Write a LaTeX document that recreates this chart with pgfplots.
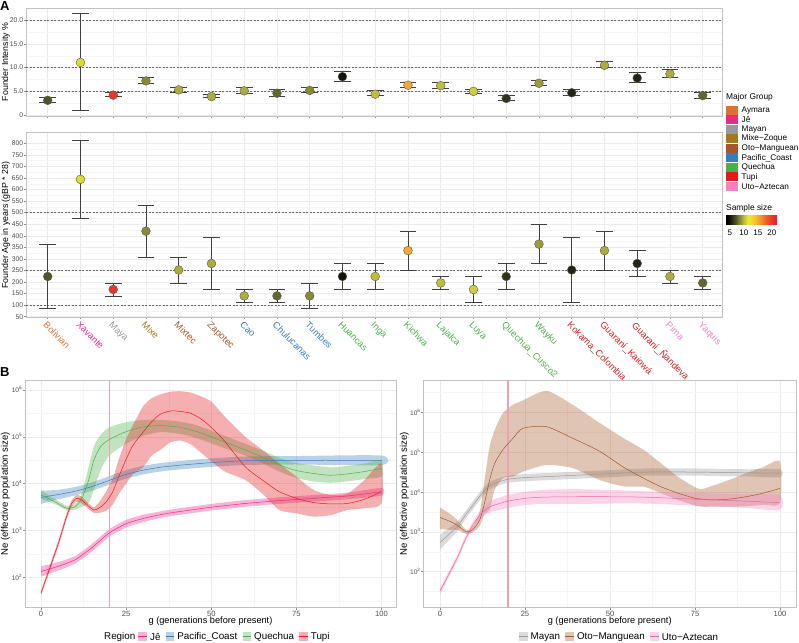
\documentclass[border=0pt]{standalone}
\usepackage{pgfplots}
\pgfplotsset{compat=1.18}
\usepackage{pgfplotstable}
\usetikzlibrary{positioning}
\usepackage{fontspec}
\setmainfont{Liberation Sans}

\definecolor{cAym}{HTML}{E0702C}
\definecolor{cJe}{HTML}{E7298A}
\definecolor{cMay}{HTML}{999999}
\definecolor{cMZ}{HTML}{A6761D}
\definecolor{cOM}{HTML}{A65628}
\definecolor{cPC}{HTML}{377EB8}
\definecolor{cQu}{HTML}{4DAF4A}
\definecolor{cTu}{HTML}{E41A1C}
\definecolor{cUA}{HTML}{F781BF}
\definecolor{cUAl}{HTML}{E8679F}
\definecolor{gridc}{HTML}{EBEBEB}
\definecolor{gridm}{HTML}{F5F5F5}
\definecolor{bordc}{HTML}{C2C2C2}
\definecolor{tickc}{HTML}{4D4D4D}
\definecolor{cVL}{RGB}{236,160,176}
\definecolor{ss0}{RGB}{0,0,0}
\definecolor{ss1}{RGB}{20,20,12}
\definecolor{ss2}{RGB}{80,84,38}
\definecolor{ss3}{RGB}{155,157,56}
\definecolor{ss4}{RGB}{205,208,58}
\definecolor{ss5}{RGB}{235,235,45}
\definecolor{ss6}{RGB}{250,210,40}
\definecolor{ss7}{RGB}{245,168,48}
\definecolor{ss8}{RGB}{240,90,40}
\definecolor{ss9}{RGB}{232,38,43}

\pgfdeclarehorizontalshading{ssbar}{100bp}{color(0bp)=(ss0); color(26.1bp)=(ss0); color(28.85bp)=(ss1); color(34.34bp)=(ss2); color(39.83bp)=(ss3); color(43.95bp)=(ss4); color(46.7bp)=(ss5); color(50.82bp)=(ss6); color(56.32bp)=(ss7); color(64.56bp)=(ss8); color(72.8bp)=(ss9); color(100bp)=(ss9)}

\pgfplotsset{
  colormap={ss}{rgb255(0cm)=(0,0,0); rgb255(2cm)=(20,20,12); rgb255(6cm)=(80,84,38); rgb255(10cm)=(155,157,56); rgb255(13cm)=(205,208,58); rgb255(15cm)=(235,235,45); rgb255(18cm)=(250,210,40); rgb255(22cm)=(245,168,48); rgb255(28cm)=(240,90,40); rgb255(34cm)=(232,38,43)},
  gg/.style={scale only axis, anchor=south west,
    axis line style={draw=bordc, line width=0.6pt},
    tick align=outside, major tick length=2pt,
    tick style={draw=black!45, line width=0.5pt},
    minor tick length=0pt, grid=both,
    major grid style={draw=gridc, line width=0.5pt},
    minor grid style={draw=gridm, line width=0.3pt},
    tick pos=left, tick label style={text=tickc},
    yticklabel style={inner sep=0.6pt},
    /pgf/number format/assume math mode=true},
}

% Panel A: founder intensity (fi), founder age (age), sample size (ss)
\pgfplotstableread{
x fi filo fihi age agelo agehi ss
0 3.1 2.7 3.7 224 84 364 7
1 11.1 1.05 21.5 644 476 812 11
2 4.2 3.9 4.8 168 140 196 20
3 7.2 6.7 8.0 420 308 532 8.5
4 5.3 4.8 5.9 252 196 308 9.5
5 3.9 3.7 4.4 280 168 392 9.5
6 5.1 4.5 5.9 140 112 168 9.5
7 4.6 3.9 5.5 140 112 168 7.5
8 5.2 4.8 5.8 140 84 196 8.5
9 8.1 7.2 9.3 224 168 280 5
10 4.4 4.1 5.3 224 168 280 10
11 6.3 5.8 6.9 336 252 420 15
12 6.2 5.6 6.9 196 168 224 10
13 5.0 4.6 5.5 168 112 224 10.5
14 3.5 3.2 4.1 224 168 280 6
15 6.7 6.2 7.4 364 280 448 9
16 4.7 4.1 5.5 252 112 392 5.5
17 10.5 10.0 11.3 336 252 420 9.5
18 7.8 6.9 9.1 280 224 336 5.5
19 8.7 7.9 9.7 224 196 252 9.5
20 4.1 3.6 4.8 196 168 224 7.5
}\tabA

% Panel B: central lines (g, m) and band outlines (upper edge forward, lower edge back)
\pgfplotstableread{
g m
0 135
5 174
10 240
15 437
20 891
25 1413
30 1820
35 2188
40 2512
50 3162
60 3802
70 4365
80 4898
90 5495
100 6761
}\jeT
\pgfplotstableread{
g b
0 175
5 214
10 288
15 525
20 1072
25 1698
30 2188
35 2570
40 2951
50 3715
60 4467
70 5129
80 5754
90 6457
100 8128
100 5623
90 4677
80 4169
70 3715
60 3236
50 2692
40 2138
35 1862
30 1514
25 1175
20 741
15 363
10 200
5 141
0 105
}\jeB

\pgfplotstableread{
g m
0 5129
5 5888
10 6918
15 8710
20 11749
25 15849
30 19498
35 22387
40 24547
50 28184
60 30903
75 31623
100 31623
}\pcT
\pgfplotstableread{
g b
0 7079
5 7413
10 8511
15 10715
20 14454
25 19498
30 23988
35 27542
40 30200
50 34674
60 38019
75 38905
100 39811
100 25119
75 25704
60 25119
50 22909
40 19953
35 18197
30 15849
25 12882
20 9550
15 7079
10 5623
5 4677
0 3715
}\pcB

\pgfplotstableread{
g m
0 5754
4 4169
7.5 3020
10 3236
12 4898
14 12023
15.5 31623
17.5 61660
20 87096
25 128825
30 162181
35 173780
40 162181
45 134896
50 100000
55 72444
60 52481
65 37154
70 25119
75 19055
80 16596
85 15136
90 16218
95 18197
100 21380
}\quT
\pgfplotstableread{
g b
0 7244
4 4786
7.5 3388
10 3715
12 6310
14 22909
15.5 61660
17.5 109648
20 158489
25 204174
30 229087
35 229087
40 213796
45 181970
50 134896
55 97724
60 70795
65 51286
70 35481
75 27542
80 24547
85 22387
90 23988
95 26915
100 31623
100 14454
95 12589
90 11220
85 10471
80 11220
75 13183
70 18197
65 27542
60 39811
55 53703
50 72444
45 97724
40 117490
35 125893
30 104713
25 70795
20 39811
17.5 19498
15.5 7413
14 3890
12 3236
10 2818
7.5 2754
4 3715
0 4786
}\quB

\pgfplotstableread{
g m
0 46.8
5 513
7.5 1995
9 3802
10.5 4898
12 4467
14 3311
15.5 2754
17 3020
19 3981
21 6607
23 15136
25 33113
27 66069
30 125893
32.5 208930
35 301995
38 354813
41 346737
44 316228
47 239883
50 158489
54 79433
60 22909
65 12023
70 6761
75 4898
80 3981
85 3715
90 3802
95 4677
100 6761
}\tuT
\pgfplotstableread{
g b
0 52.5
5 603
7.5 2344
9 4467
10.5 5754
12 5248
14 3802
15.5 3162
17 3981
19 6607
21 12589
23 35481
25 89125
27 177828
30 446684
32.5 660693
35 794328
38 912011
41 933254
44 870964
47 724436
50 562341
54 269153
60 100000
65 52481
70 26915
75 14125
80 7413
85 5754
90 6166
95 12023
100 26915
100 3802
95 3020
90 2754
85 2138
80 1995
75 2344
70 2754
65 6166
60 12023
54 18197
50 30200
47 45709
44 69183
41 83176
38 75858
35 52481
32.5 39811
30 22387
27 15849
25 10000
23 6310
21 3548
19 2630
17 2399
15.5 2399
14 2884
12 3802
10.5 4169
9 3236
7.5 1698
5 437
0 41.7
}\tuB

\pgfplotstableread{
g m
0 537
5 1349
7.5 2630
10 5012
12.5 9550
15 15136
20 20893
25 22909
30 23988
40 26303
50 28840
60 31623
75 31623
90 30200
100 29512
}\mayT
\pgfplotstableread{
g b
0 832
5 1778
7.5 3311
10 6310
12.5 12023
15 18621
20 25704
25 28184
30 29512
40 32359
50 35481
60 38905
75 38905
90 37154
100 37154
100 23442
90 24547
75 25704
60 25704
50 23442
40 21380
30 19498
25 18621
20 16982
15 12303
12.5 7586
10 3981
7.5 2089
5 1023
0 355
}\mayB

\pgfplotstableread{
g m
0 2291
3 1820
5 1479
7.7 1000
9.6 1122
11.7 1995
13.1 5248
14.6 19953
16.1 52481
18.5 114815
21.5 223872
24.4 398107
31.3 436516
39 223872
47 104713
54 41687
60 21878
65 13490
70 9333
75 6918
77 6607
80 6310
85 6607
90 7586
95 9333
100 12303
}\omT
\pgfplotstableread{
g b
0 4074
3 2818
5 1995
7.7 1122
9.6 1318
11.7 3162
13.1 19953
14.6 138038
16.1 363078
18.5 954993
21.5 1548817
24.4 1995262
31.3 3467369
39 1548817
47 537032
54 223872
60 112202
65 52481
70 23988
75 13183
77 11749
80 14125
85 19953
90 29512
95 41687
100 57544
100 5248
95 4786
90 4365
85 4266
80 4266
77 4266
75 4571
70 6310
65 9333
60 13490
54 13804
47 19953
39 39811
31.3 47863
24.4 32359
21.5 24547
18.5 22387
16.1 11220
14.6 3548
13.1 2818
11.7 1413
9.6 955
7.7 891
5 1122
3 1122
0 1175
}\omB

\pgfplotstableread{
g m
0 32.4
5 214
7.5 661
10 1660
12.5 3090
15 4365
20 5888
25 6918
30 7413
40 7586
50 7586
60 7413
75 6607
90 5888
100 5370
}\uaT
\pgfplotstableread{
g b
0 38.9
5 257
7.5 794
10 2042
12.5 3981
15 6026
20 8511
25 10000
30 11220
40 11749
50 11220
60 10471
75 9333
90 8710
100 8318
100 3548
90 3981
75 4571
60 5129
50 5129
40 5012
30 5012
25 4677
20 3981
15 3162
12.5 2399
10 1349
7.5 550
5 178
0 26.9
}\uaB

\newcommand{\band}[2]{%
  \addplot[fill=#2, fill opacity=0.35, draw=none, smooth, tension=0.4, forget plot] table[x=g, y=b] {#1};
}

\tikzset{
  keyb/.style={minimum width=8.5pt, minimum height=8.5pt, inner sep=0pt, outer sep=0pt},
  ltxt/.style={font=\fontsize{9.8}{11}\selectfont, inner sep=0pt, anchor=west},
}

\begin{document}
\begin{tikzpicture}
\path[use as bounding box] (0pt,0pt) rectangle (799pt,-642pt);

% ---------------- Panel A top ----------------
\begin{axis}[gg, at={(26pt,-116pt)}, width=696pt, height=108pt,
  xmin=-0.663, xmax=20.589, ymin=-0.21, ymax=22.6,
  xtick={0,...,20}, xticklabel=\empty,
  ytick={0,5,10,15,20}, yticklabels={0,5.0,10.0,15.0,20.0},
  minor ytick={2.5,7.5,12.5,17.5},
  yticklabel style={font=\fontsize{6.8}{7}\selectfont},
  colormap name=ss, point meta min=4, point meta max=21]
\addplot[black!60, line width=0.45pt, dash pattern=on 2pt off 1.5pt] coordinates {(-0.663,5) (20.589,5)};
\addplot[black!60, line width=0.45pt, dash pattern=on 2pt off 1.5pt] coordinates {(-0.663,10) (20.589,10)};
\addplot[black!60, line width=0.45pt, dash pattern=on 2pt off 1.5pt] coordinates {(-0.663,20) (20.589,20)};
\addplot[draw=none, error bars/.cd, y dir=both, y explicit,
  error bar style={draw=black!75, line width=0.7pt},
  error mark options={rotate=90, draw=black!75, line width=0.7pt, mark size=8.3pt}]
  table[x=x, y=fi, y error plus expr=\thisrow{fihi}-\thisrow{fi}, y error minus expr=\thisrow{fi}-\thisrow{filo}] {\tabA};
\addplot[scatter, only marks, mark=*, mark size=4.4pt, scatter src=explicit,
  scatter/use mapped color={draw=black!65, fill=mapped color}, line width=0.4pt]
  table[x=x, y=fi, meta=ss] {\tabA};
\end{axis}

% ---------------- Panel A bottom ----------------
\begin{axis}[gg, at={(26pt,-317.3pt)}, width=696pt, height=184.6pt,
  xmin=-0.663, xmax=20.589, ymin=47.4, ymax=845.8,
  xtick={0,...,20},
  xticklabels={\textcolor{cAym}{Bolivian}, \textcolor{cJe}{Xavante}, \textcolor{cMay}{Maya}, \textcolor{cMZ}{Mixe}, \textcolor{cOM}{Mixtec}, \textcolor{cOM}{Zapotec}, \textcolor{cPC}{Cao}, \textcolor{cPC}{Chulucanas}, \textcolor{cPC}{Tumbes}, \textcolor{cQu}{Huancas}, \textcolor{cQu}{Inga}, \textcolor{cQu}{Kichwa}, \textcolor{cQu}{Lajalca}, \textcolor{cQu}{Luya}, \textcolor{cQu}{Quechua\_Cusco2}, \textcolor{cQu}{Wayku}, \textcolor{cTu}{Kokama\_Colombia}, \textcolor{cTu}{Guaraní\_Kaiowá}, \textcolor{cTu}{Guaraní\_Ñandeva}, \textcolor{cUA}{Pima}, \textcolor{cUA}{Yaquis}},
  xticklabel style={rotate=-45, anchor=north west, inner sep=1pt, font=\fontsize{9.3}{10}\selectfont},
  ytick={50,100,...,800}, minor ytick={75,125,...,775},
  yticklabel style={font=\fontsize{6.8}{7}\selectfont},
  colormap name=ss, point meta min=4, point meta max=21]
\addplot[black!60, line width=0.45pt, dash pattern=on 2pt off 1.5pt] coordinates {(-0.663,100) (20.589,100)};
\addplot[black!60, line width=0.45pt, dash pattern=on 2pt off 1.5pt] coordinates {(-0.663,250) (20.589,250)};
\addplot[black!60, line width=0.45pt, dash pattern=on 2pt off 1.5pt] coordinates {(-0.663,500) (20.589,500)};
\addplot[draw=none, error bars/.cd, y dir=both, y explicit,
  error bar style={draw=black!75, line width=0.7pt},
  error mark options={rotate=90, draw=black!75, line width=0.7pt, mark size=8.3pt}]
  table[x=x, y=age, y error plus expr=\thisrow{agehi}-\thisrow{age}, y error minus expr=\thisrow{age}-\thisrow{agelo}] {\tabA};
\addplot[scatter, only marks, mark=*, mark size=4.4pt, scatter src=explicit,
  scatter/use mapped color={draw=black!65, fill=mapped color}, line width=0.4pt]
  table[x=x, y=age, meta=ss] {\tabA};
\end{axis}

% ---------------- Panel B left ----------------
\begin{axis}[gg, at={(25pt,-607.7pt)}, width=371.5pt, height=227.7pt,
  xmin=-4.7, xmax=104.4, ymode=log, ymin=22.9, ymax=1.62e6,
  xtick={0,25,50,75,100}, minor xtick={12.5,37.5,62.5,87.5},
  ytick={1e2,1e3,1e4,1e5,1e6},
  yticklabels={10\textsuperscript{2},10\textsuperscript{3},10\textsuperscript{4},10\textsuperscript{5},10\textsuperscript{6}},
  minor ytick={31.62,316.2,3162,31623,316228},
  xticklabel style={font=\fontsize{7.6}{8}\selectfont, inner sep=1pt},
  yticklabel style={font=\fontsize{6.6}{7}\selectfont}]
\band{\jeB}{cJe}
\band{\pcB}{cPC}
\band{\quB}{cQu}
\band{\tuB}{cTu}
\draw[draw=cVL, line width=1.2pt] (axis cs:20,22.9) -- (axis cs:20,1.62e6);
\addplot[cJe, line width=0.5pt, smooth, tension=0.4] table[x=g, y=m] {\jeT};
\addplot[cPC, line width=0.5pt, smooth, tension=0.4] table[x=g, y=m] {\pcT};
\addplot[cQu, line width=0.5pt, smooth, tension=0.4] table[x=g, y=m] {\quT};
\addplot[cTu, line width=0.5pt, smooth, tension=0.4] table[x=g, y=m] {\tuT};
\end{axis}

% ---------------- Panel B right ----------------
\begin{axis}[gg, at={(423.3pt,-607.7pt)}, width=372.7pt, height=227.7pt,
  xmin=-4.9, xmax=104.7, ymode=log, ymin=12.45, ymax=6.46e6,
  xtick={0,25,50,75,100}, minor xtick={12.5,37.5,62.5,87.5},
  ytick={1e2,1e3,1e4,1e5,1e6},
  yticklabels={10\textsuperscript{2},10\textsuperscript{3},10\textsuperscript{4},10\textsuperscript{5},10\textsuperscript{6}},
  minor ytick={31.62,316.2,3162,31623,316228,3162278},
  xticklabel style={font=\fontsize{7.6}{8}\selectfont, inner sep=1pt},
  yticklabel style={font=\fontsize{6.6}{7}\selectfont}]
\band{\mayB}{cMay}
\band{\omB}{cOM}
\band{\uaB}{cUA}
\draw[draw=cVL, line width=1.2pt] (axis cs:20,12.45) -- (axis cs:20,6.46e6);
\addplot[cMay, line width=0.5pt, smooth, tension=0.4] table[x=g, y=m] {\mayT};
\addplot[cOM, line width=0.5pt, smooth, tension=0.4] table[x=g, y=m] {\omT};
\addplot[cUAl, line width=0.5pt, smooth, tension=0.4] table[x=g, y=m] {\uaT};
\end{axis}

% ---------------- labels ----------------
\node[anchor=north west, inner sep=0pt, font=\bfseries\fontsize{13}{14}\selectfont] at (0pt,-1pt) {A};
\node[anchor=north west, inner sep=0pt, font=\bfseries\fontsize{13}{14}\selectfont] at (0pt,-367pt) {B};
\node[rotate=90, inner sep=0pt, font=\fontsize{8.8}{10}\selectfont] at (5.8pt,-62pt) {Founder Intensity \%};
\node[rotate=90, inner sep=0pt, font=\fontsize{8.8}{10}\selectfont] at (5.8pt,-225pt) {Founder Age in years (gBP * 28)};
\node[rotate=90, inner sep=0pt, font=\fontsize{9.6}{11}\selectfont] at (5.5pt,-494pt) {Ne (effective population size)};
\node[rotate=90, inner sep=0pt, font=\fontsize{9.6}{11}\selectfont] at (404.5pt,-494pt) {Ne (effective population size)};
\node[inner sep=0pt, font=\fontsize{9.2}{11}\selectfont] at (210.5pt,-621.5pt) {g (generations before present)};
\node[inner sep=0pt, font=\fontsize{9.2}{11}\selectfont] at (609.7pt,-621.5pt) {g (generations before present)};

% ---------------- Major group legend ----------------
\node[anchor=west, inner sep=0pt, font=\fontsize{8.4}{9}\selectfont] at (726pt,-97.5pt) {Major Group};
\foreach \c/\t [count=\i from 0] in {cAym/Aymara, cJe/Jê, cMay/Mayan, cMZ/Mixe−Zoque, cOM/Oto−Manguean, cPC/Pacific\_Coast, cQu/Quechua, cTu/Tupi, cUA/Uto−Aztecan} {
  \fill[\c] (726pt,{-105.6pt-\i*9.55pt}) rectangle (738pt,{-114.6pt-\i*9.55pt});
  \node[anchor=west, inner sep=0pt, font=\fontsize{8.2}{9}\selectfont] at (741.5pt,{-110.1pt-\i*9.55pt}) {\t};
}
\node[anchor=west, inner sep=0pt, font=\fontsize{8.4}{9}\selectfont] at (726pt,-208pt) {Sample size};
\shade[shading=ssbar] (726pt,-215pt) rectangle (777pt,-224.3pt);
\foreach \v/\p in {5/729.9, 10/743.9, 15/757.9, 20/771.9} {
  \node[inner sep=0pt, font=\fontsize{8}{9}\selectfont] at (\p pt,-232.7pt) {\v};
}

% ---------------- B legends ----------------
\node[ltxt] (rg) at (104pt,-636.7pt) {Region};
\node[keyb, fill=cJe!35, right=3pt of rg] (k1) {}; \draw[cJe, line width=0.5pt] (k1.west) -- (k1.east);
\node[ltxt, right=3pt of k1] (t1) {Jê};
\node[keyb, fill=cPC!35, right=5pt of t1] (k2) {}; \draw[cPC, line width=0.5pt] (k2.west) -- (k2.east);
\node[ltxt, right=3pt of k2] (t2) {Pacific\_Coast};
\node[keyb, fill=cQu!35, right=5pt of t2] (k3) {}; \draw[cQu, line width=0.5pt] (k3.west) -- (k3.east);
\node[ltxt, right=3pt of k3] (t3) {Quechua};
\node[keyb, fill=cTu!35, right=5pt of t3] (k4) {}; \draw[cTu, line width=0.5pt] (k4.west) -- (k4.east);
\node[ltxt, right=3pt of k4] (t4) {Tupi};

\node[keyb, fill=cMay!35, anchor=west] (m1) at (519pt,-636.7pt) {}; \draw[cMay, line width=0.5pt] (m1.west) -- (m1.east);
\node[ltxt, right=3pt of m1] (u1) {Mayan};
\node[keyb, fill=cOM!35, right=5pt of u1] (m2) {}; \draw[cOM, line width=0.5pt] (m2.west) -- (m2.east);
\node[ltxt, right=3pt of m2] (u2) {Oto−Manguean};
\node[keyb, fill=cUA!35, right=5pt of u2] (m3) {}; \draw[cUAl, line width=0.5pt] (m3.west) -- (m3.east);
\node[ltxt, right=3pt of m3] (u3) {Uto−Aztecan};
\end{tikzpicture}
\end{document}
